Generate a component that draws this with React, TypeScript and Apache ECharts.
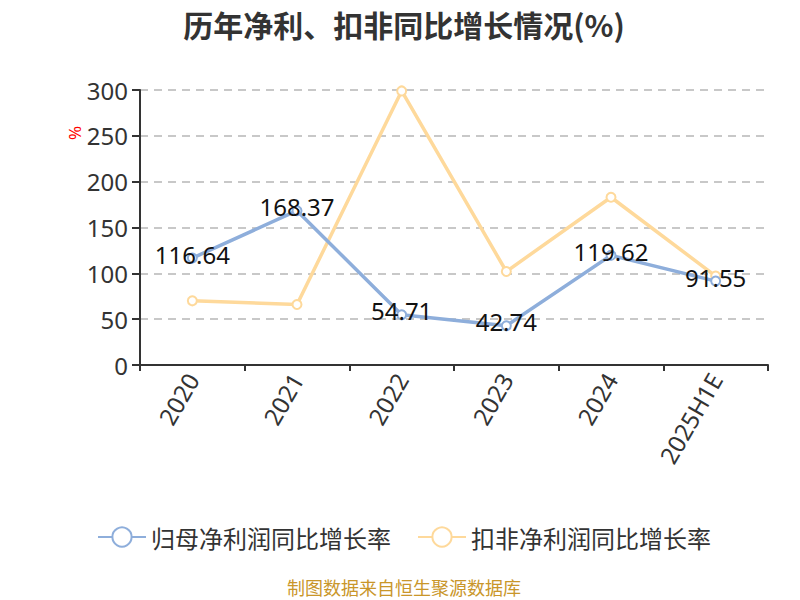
import React, { useEffect, useRef } from "react";
import * as echarts from "echarts";

const categories = ["2020", "2021", "2022", "2023", "2024", "2025H1E"];
const netProfitGrowth = [116.64, 168.37, 54.71, 42.74, 119.62, 91.55];
const deductedGrowth = [70, 66, 299, 102, 183, 97];
const yTicks = { min: 0, max: 300, interval: 50 };
const seriesNames = ["归母净利润同比增长率", "扣非净利润同比增长率"];
const titleText = "历年净利、扣非同比增长情况(%)";
const sourceText = "制图数据来自恒生聚源数据库";

const FONT = "'Noto Sans', 'Noto Sans CJK SC', sans-serif";
const CJK = "'Noto Sans CJK SC', sans-serif";

export default function App() {
  const ref = useRef<HTMLDivElement>(null);
  useEffect(() => {
    if (!ref.current) return;
    const chart = echarts.init(ref.current, undefined, { renderer: "svg" });
    chart.setOption({
      animation: false,
      textStyle: { fontFamily: FONT },
      title: {
        text: titleText,
        left: "center",
        top: 1,
        padding: [0, 5],
        textStyle: { fontSize: 30, lineHeight: 30, fontWeight: "bold", color: "#333", fontFamily: CJK },
      },
      legend: {
        data: seriesNames,
        top: 512,
        left: "center",
        itemWidth: 48,
        itemHeight: 24,
        itemGap: 26,
        textStyle: { fontSize: 24, color: "#333", fontFamily: CJK },
      },
      grid: { left: 132, right: 32, top: 82, bottom: 235 },
      xAxis: {
        type: "category",
        data: categories,
        boundaryGap: true,
        axisLine: { lineStyle: { color: "#333", width: 2 } },
        axisTick: { show: true, length: 6, lineStyle: { color: "#333", width: 2 } },
        axisLabel: { rotate: 60, fontSize: 24, color: "#333", margin: 10 },
      },
      yAxis: {
        type: "value",
        min: yTicks.min,
        max: yTicks.max,
        interval: yTicks.interval,
        axisLine: { show: true, lineStyle: { color: "#333", width: 2 } },
        axisTick: { show: true, length: 8, lineStyle: { color: "#333", width: 2 } },
        axisLabel: { fontSize: 24, color: "#333", margin: 12 },
        splitLine: { lineStyle: { color: "#c8c8c8", type: [8, 6], width: 2 } },
      },
      graphic: [
        {
          type: "text",
          x: 58,
          y: 132,
          rotation: Math.PI / 2,
          style: { text: "%", fill: "#ff0000", fontSize: 17, fontFamily: FONT },
        },
        {
          type: "text",
          left: "center",
          top: 570,
          style: { text: sourceText, fill: "#c9962a", fontSize: 18, fontFamily: CJK },
        },
      ],
      series: [
        {
          name: seriesNames[0],
          type: "line",
          data: netProfitGrowth,
          symbol: "circle",
          symbolSize: 9,
          itemStyle: { color: "#ffffff", borderColor: "#8eaedb", borderWidth: 2 },
          lineStyle: { color: "#8eaedb", width: 3.5 },
          label: {
            show: true,
            position: "inside",
            offset: [0, -4],
            fontSize: 24,
            color: "#111",
            fontFamily: FONT,
          },
          z: 3,
        },
        {
          name: seriesNames[1],
          type: "line",
          data: deductedGrowth,
          symbol: "circle",
          symbolSize: 9,
          itemStyle: { color: "#ffffff", borderColor: "#fed99b", borderWidth: 2 },
          lineStyle: { color: "#fed99b", width: 3.5 },
          z: 2,
        },
      ],
    });
    return () => chart.dispose();
  }, []);
  return <div ref={ref} style={{ width: 792, height: 592 }} />;
}
